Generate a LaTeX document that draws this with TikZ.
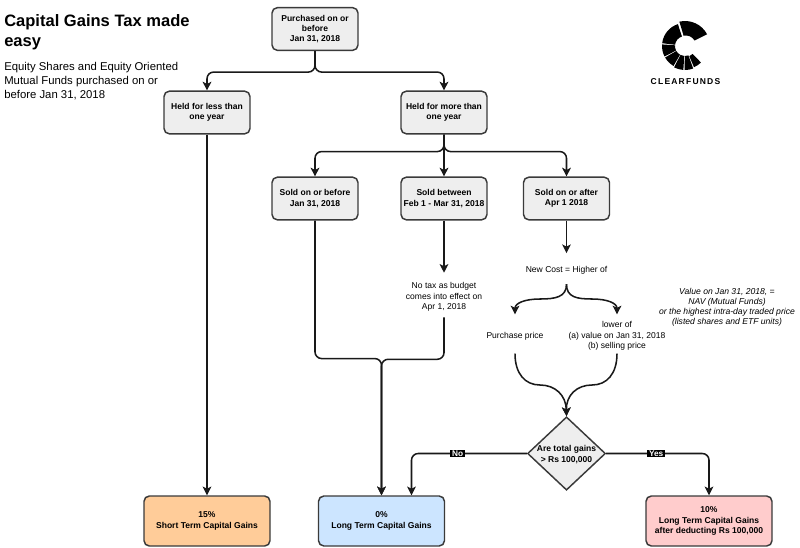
\documentclass[tikz,border=0pt]{standalone}
\usepackage{fontspec}
\setmainfont{Liberation Sans}
\usetikzlibrary{arrows.meta,shapes.geometric,calc}
\definecolor{boxgrey}{HTML}{EEEEEE}
\definecolor{edge}{HTML}{3A3A3A}
\definecolor{orangebox}{HTML}{FFCC99}
\definecolor{bluebox}{HTML}{CCE5FF}
\definecolor{pinkbox}{HTML}{FFCCCC}
\tikzset{
  x=0.75pt,y=-0.75pt,
  basebox/.style={draw=edge,line width=1.1pt,rounded corners=4pt,align=center,inner sep=0pt,font=\fontsize{6.4}{7.7}\selectfont\bfseries},
  stepbox/.style={basebox,fill=boxgrey,minimum width=64.5pt,minimum height=32pt},
  resultbox/.style={basebox,minimum width=94.5pt,minimum height=37.5pt},
  plain/.style={align=center,inner sep=0pt,font=\fontsize{6.4}{7.7}\selectfont},
  link/.style={draw=black!90,line width=1.15pt,rounded corners=5pt,-{Stealth[length=6.5pt,width=6.5pt,inset=1.6pt]}},
  flag/.style={fill=black,text=white,inner xsep=1.5pt,inner ysep=0.8pt,rounded corners=0pt,font=\fontsize{6.2}{7}\selectfont\bfseries},
  wedgepart/.style={fill=black,draw=none}
}
\begin{document}
\begin{tikzpicture}
\useasboundingbox (0,0) rectangle (800,547);
\node[anchor=north west,inner sep=0pt,align=left,font=\fontsize{12.4}{15}\selectfont\bfseries] (title) at (4,14) {Capital Gains Tax made\\easy};
\node[anchor=north west,inner sep=0pt,align=left,font=\fontsize{8.5}{10.4}\selectfont] (sub) at (4,62.5) {Equity Shares and Equity Oriented\\Mutual Funds purchased on or\\before Jan 31, 2018};

\node[stepbox] (p) at (315,29) {Purchased on or\\before\\Jan 31, 2018};
\node[stepbox] (less) at (207,112.5) {Held for less than\\one year};
\node[stepbox] (more) at (444,112.5) {Held for more than\\one year};
\node[stepbox] (s1) at (315,198.5) {Sold on or before\\Jan 31, 2018};
\node[stepbox] (s2) at (444,198.5) {Sold between\\Feb 1 - Mar 31, 2018};
\node[stepbox] (s3) at (566.5,198.5) {Sold on or after\\Apr 1 2018};

\node[plain,minimum height=30pt] (notax) at (444,297) {No tax as budget\\comes into effect on\\Apr 1, 2018};
\node[plain,minimum height=21pt] (cost) at (566.5,270) {New Cost = Higher of};
\node[plain,minimum height=26pt] (pur) at (515,336) {Purchase price};
\node[plain,minimum height=26pt] (low) at (617,336) {lower of\\(a) value on Jan 31, 2018\\(b) selling price};
\node[plain,font=\fontsize{6.45}{7.6}\selectfont\itshape] (note) at (727,307.5) {Value on Jan 31, 2018, =\\NAV (Mutual Funds)\\or the highest intra-day traded price\\(listed shares and ETF units)};

\node[diamond,aspect=1.06,draw=edge,line width=1.1pt,fill=boxgrey,inner sep=0pt,minimum width=58.5pt,minimum height=55pt,align=center] (d) at (566.5,453.5) {};
\node[align=center,inner sep=0pt,font=\fontsize{6.4}{7.7}\selectfont\bfseries] (dt) at (566.5,454.5) {Are total gains\\> Rs 100,000};

\node[resultbox,fill=orangebox] (r1) at (207,521) {15\%\\Short Term Capital Gains};
\node[resultbox,fill=bluebox] (r2) at (381.5,521) {0\%\\Long Term Capital Gains};
\node[resultbox,fill=pinkbox] (r3) at (709,521) {10\%\\Long Term Capital Gains\\after deducting Rs 100,000};

\draw[link] (p.south) -- ++(0,21) -| (less.north);
\draw[link] (p.south) -- ++(0,21) -| (more.north);
\draw[link] (less.south) -- (r1.north);
\draw[link] (more.south) -- ++(0,17) -| (s1.north);
\draw[link] (more.south) -- (s2.north);
\draw[link] (more.south) -- ++(0,17) -| (s3.north);
\draw[link] (s1.south) -- ++(0,138) -| (r2.north);
\draw[link] (s2.south) -- ([yshift=3pt]notax.north);
\draw[link] (notax.south) -- ++(0,42) -| (r2.north);
\draw[link] (s3.south) -- ([yshift=2pt]cost.north);
\draw[link,rounded corners=0pt] (cost.south) .. controls +(0,13) and (555,299) .. (540,299) .. controls (525,299) and (515,303) .. ([yshift=3pt]pur.north);
\draw[link,rounded corners=0pt] (cost.south) .. controls +(0,13) and (577,299) .. (592,299) .. controls (607,299) and (617,303) .. ([yshift=3pt]low.north);
\draw[link,rounded corners=0pt] (pur.south) .. controls +(0,20) and (525,385) .. (540,385) .. controls (555,385) and (566,395) .. (d.north);
\draw[link,rounded corners=0pt] (low.south) .. controls +(0,20) and (607,385) .. (592,385) .. controls (577,385) and (566,395) .. (d.north);
\draw[link] (d.west) -| ([xshift=22.5pt]r2.north) node[pos=0.30,flag] (no) {No};
\draw[link] (d.east) -| (r3.north) node[pos=0.243,flag] (yes) {Yes};

\begin{scope}[shift={(685,46)},x=0.75pt,y=0.75pt]
  \fill[wedgepart] (103:25) arc (103:28:25) -- (30:11) arc (30:103:10) -- cycle;
  \fill[wedgepart] (173:23) arc (173:108:23) -- (108:10) arc (108:173:10) -- cycle;
  \fill[wedgepart] (207:23) arc (207:176:23) -- (176:10) arc (176:207:10) -- cycle;
  \fill[wedgepart] (240:23) arc (240:210:23) -- (210:10) arc (210:240:10) -- cycle;
  \fill[wedgepart] (266:24) arc (266:243:24) -- (243:10) arc (243:266:10) -- cycle;
  \fill[wedgepart] (290:24) arc (290:269:24) -- (269:10) arc (269:290:10) -- cycle;
  \fill[wedgepart] (314:23) arc (314:293:23) -- (293:11) arc (293:314:11) -- cycle;
\end{scope}
\node[inner sep=0pt,font=\fontsize{6.4}{7}\selectfont\bfseries] (logo) at (685.5,81.5) {\addfontfeature{LetterSpace=14}CLEARFUNDS};
\end{tikzpicture}
\end{document}
